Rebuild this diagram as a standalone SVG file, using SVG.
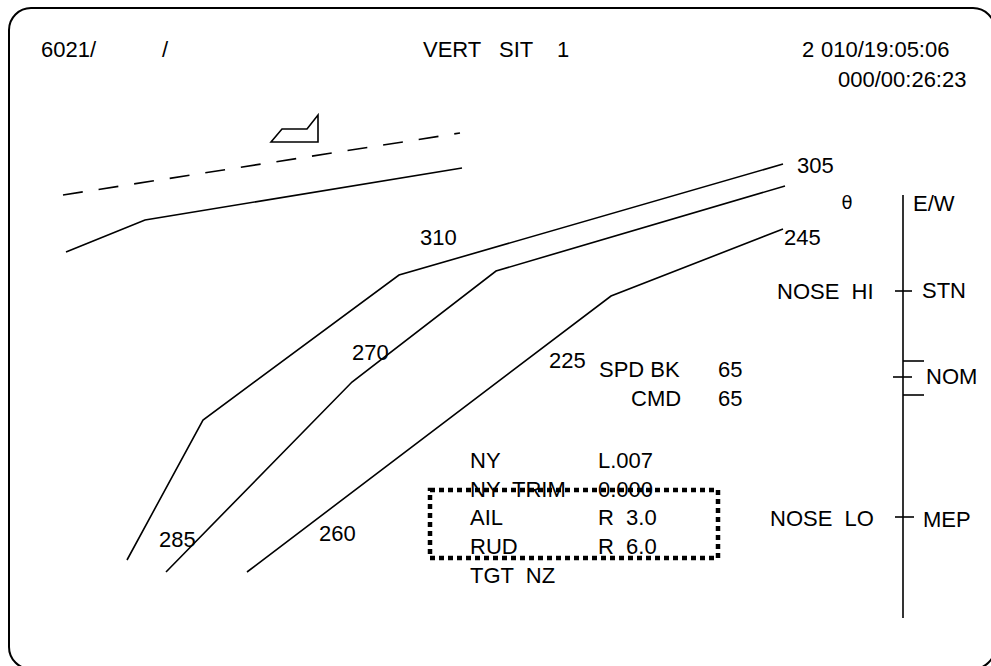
<svg xmlns="http://www.w3.org/2000/svg" width="991" height="666" viewBox="0 0 991 666">
<style>
text{font-family:"Liberation Sans",Arial,sans-serif;font-size:22px;fill:#000;white-space:pre}
.ln{fill:none;stroke:#000;stroke-width:1.6;stroke-linejoin:miter}
.sym{font-family:"DejaVu Sans",sans-serif;font-size:18px}
</style>
<rect x="0" y="0" width="991" height="666" fill="#fff"/>
<rect id="frame" x="9" y="8" width="986" height="661" rx="22" ry="22" fill="none" stroke="#000" stroke-width="2"/>
<g id="header">
<text x="41" y="57">6021/</text>
<text x="162" y="57">/</text>
<text x="423" y="57">VERT</text>
<text x="499" y="57">SIT</text>
<text x="557" y="57">1</text>
<text x="802" y="57">2</text>
<text x="821" y="57">010/19:05:06</text>
<text x="838" y="87">000/00:26:23</text>
</g>
<g id="trajectory">
<line class="ln" x1="63" y1="195" x2="460" y2="133" stroke-dasharray="20 16"/>
<polygon class="ln" points="271,142 282,129 307,129 318,115 318,142"/>
<polyline class="ln" points="66,252 145,220 462,168"/>
</g>
<g id="energy-lines">
<polyline class="ln" points="127,560 203,420 399,275 783,164"/>
<polyline class="ln" points="166,572 352,382 496,271 785,186"/>
<polyline class="ln" points="247,572 611,296 783,229"/>
</g>
<g id="labels">
<text x="420" y="245">310</text>
<text x="797" y="173">305</text>
<text x="784" y="245">245</text>
<text x="352" y="360">270</text>
<text x="549" y="368">225</text>
<text x="159" y="547">285</text>
<text x="319" y="541">260</text>
</g>
<g id="speedbrake">
<text x="599" y="377">SPD BK</text>
<text x="718" y="377">65</text>
<text x="631" y="406">CMD</text>
<text x="718" y="406">65</text>
</g>
<g id="data-block">
<text x="470" y="468">NY</text>
<text x="598" y="468">L.007</text>
<text x="470" y="497">NY  TRIM</text>
<text x="598" y="497">0.000</text>
<text x="470" y="525">AIL</text>
<text x="598" y="525">R  3.0</text>
<text x="470" y="554">RUD</text>
<text x="598" y="554">R  6.0</text>
<text x="470" y="583">TGT  NZ</text>
<rect x="430" y="490" width="288" height="68" fill="none" stroke="#000" stroke-width="4.5" stroke-dasharray="5 4"/>
</g>
<g id="pitch-scale">
<text class="sym" x="847" y="209" text-anchor="middle">θ</text>
<line class="ln" x1="903" y1="195" x2="903" y2="618"/>
<line class="ln" x1="895" y1="291" x2="912" y2="291"/>
<line class="ln" x1="903" y1="361" x2="924" y2="361"/>
<line class="ln" x1="893" y1="377" x2="912" y2="377"/>
<line class="ln" x1="903" y1="395" x2="924" y2="395"/>
<line class="ln" x1="895" y1="517" x2="914" y2="517"/>
<text x="913" y="211">E/W</text>
<text x="777" y="299">NOSE  HI</text>
<text x="922" y="298">STN</text>
<text x="926" y="384">NOM</text>
<text x="770" y="526">NOSE  LO</text>
<text x="923" y="527">MEP</text>
</g>
</svg>
